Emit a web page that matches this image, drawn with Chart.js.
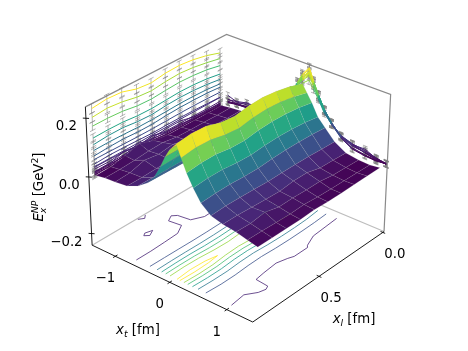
<!DOCTYPE html>
<html>
<head>
<meta charset="utf-8">
<style>
  html, body { margin: 0; padding: 0; background: #fff; }
</style>
<script src="https://cdn.jsdelivr.net/npm/chart.js@4"></script>
</head>
<body>
<canvas id="chart" width="468" height="351"></canvas>
<script>
// transverse and longitudinal positions [fm], xt lattice is finer near the axis
const xtValues = [-1.42, -1.25, -1.06, -0.84, -0.64, -0.47, -0.34, -0.23, -0.14, -0.06, 0.06, 0.14, 0.23, 0.34, 0.47, 0.64, 0.84, 1.06, 1.25, 1.42];
const xlValues = [0.04, 0.14, 0.24, 0.34, 0.44, 0.54, 0.64, 0.74, 0.84, 0.94];

// E_x^NP [GeV^2], one row per xl value
const row0 = [-0.002, 0.002, 0.006, 0.012, 0.026, 0.045, 0.075, 0.110, 0.140, 0.165, 0.185, 0.160, 0.132, 0.091, 0.063, 0.027, 0.004, -0.003, -0.005, -0.001];
const row1 = [-0.002, 0.002, 0.005, 0.011, 0.026, 0.047, 0.080, 0.118, 0.150, 0.175, 0.200, 0.172, 0.141, 0.098, 0.067, 0.029, 0.006, -0.001, -0.004, -0.001];
const row2 = [-0.002, 0.003, 0.006, 0.012, 0.026, 0.048, 0.082, 0.122, 0.155, 0.183, 0.210, 0.180, 0.146, 0.102, 0.068, 0.031, 0.008, 0.001, -0.003, -0.001];
const row3 = [-0.001, 0.003, 0.006, 0.012, 0.026, 0.048, 0.082, 0.123, 0.157, 0.187, 0.215, 0.183, 0.147, 0.103, 0.068, 0.032, 0.020, 0.008, -0.002, -0.002];
const row4 = [-0.001, 0.004, 0.008, 0.012, 0.025, 0.047, 0.080, 0.120, 0.154, 0.184, 0.213, 0.180, 0.144, 0.101, 0.066, 0.032, 0.020, 0.008, 0.000, -0.002];
const row5 = [0.006, 0.012, 0.021, 0.021, 0.025, 0.046, 0.078, 0.117, 0.150, 0.178, 0.205, 0.172, 0.137, 0.096, 0.062, 0.031, 0.014, 0.010, 0.004, 0.001];
const row6 = [0.022, 0.010, 0.014, 0.012, 0.024, 0.046, 0.078, 0.118, 0.152, 0.182, 0.210, 0.176, 0.138, 0.098, 0.062, 0.033, 0.016, 0.009, 0.002, -0.002];
const row7 = [0.008, 0.005, 0.021, 0.010, 0.024, 0.047, 0.080, 0.123, 0.160, 0.192, 0.225, 0.187, 0.146, 0.104, 0.065, 0.035, 0.019, 0.021, 0.003, -0.002];
const row8 = [-0.003, 0.002, 0.006, 0.008, 0.024, 0.048, 0.081, 0.124, 0.163, 0.197, 0.228, 0.189, 0.146, 0.104, 0.064, 0.036, 0.022, 0.014, 0.005, -0.002];
const row9 = [-0.005, 0.001, 0.003, 0.0075, 0.0244, 0.0488, 0.0799, 0.1225, 0.163, 0.1924, 0.222, 0.1824, 0.1404, 0.0999, 0.061, 0.033, 0.022, 0.0158, 0.006, -0.002];
const zRows = [row0, row1, row2, row3, row4, row5, row6, row7, row8, row9];

// error bar half height per xt column
const zErrors = [0.011, 0.011, 0.011, 0.012, 0.012, 0.013, 0.013, 0.014, 0.014, 0.015, 0.015, 0.014, 0.014, 0.013, 0.013, 0.012, 0.012, 0.011, 0.011, 0.011];
const contourLevels = [0.018, 0.05, 0.082, 0.114, 0.146, 0.178, 0.214];
// xt columns that get a curve on the left wall
const wallColumns = [0, 1, 2, 3, 4, 5, 6, 7, 8, 9, 10, 13, 14, 15, 16, 17, 18, 19];

const xtTicks = [-1, 0, 1];
const xlTicks = [0, 0.5];
const zTicks = [-0.2, 0, 0.2];

const xtLim = [-1.44, 1.44];
const xlLim = [-0.01, 0.98];
const zLim = [-0.242, 0.238];
const colorLim = [-0.004, 0.212];

const viridisStops = ['#440154', '#482878', '#3e4a89', '#31688e', '#26828e', '#1f9e89', '#35b779', '#6dcd59', '#b4de2c', '#fde725'];

function hexToRgb(hex) {
    return [1, 3, 5].map((i) => parseInt(hex.slice(i, i + 2), 16));
}

function viridis(z) {
    const t = Math.min(1, Math.max(0, (z - colorLim[0]) / (colorLim[1] - colorLim[0]))) * (viridisStops.length - 1);
    const i = Math.min(viridisStops.length - 2, Math.floor(t));
    const a = hexToRgb(viridisStops[i]);
    const b = hexToRgb(viridisStops[i + 1]);
    const c = a.map((v, k) => Math.round(v + (b[k] - v) * (t - i)));
    return `rgb(${c[0]},${c[1]},${c[2]})`;
}

// same view as a mplot3d axes: elev 30, azim 40
const elev = 30 * Math.PI / 180;
const azim = 40 * Math.PI / 180;
const dist = 10;
const boxX = 1.19;
const boxY = 1.19;
const boxZ = 0.893;
const view = { cx: 239, cy: 171, scale: 1780 };

function depthAndView(xt, xl, z) {
    const px = (xl - xlLim[0]) / (xlLim[1] - xlLim[0]) * boxX - boxX / 2;
    const py = (xt - xtLim[0]) / (xtLim[1] - xtLim[0]) * boxY - boxY / 2;
    const pz = (z - zLim[0]) / (zLim[1] - zLim[0]) * boxZ - boxZ / 2;
    const right = -Math.sin(azim) * px + Math.cos(azim) * py;
    const up = -Math.cos(azim) * Math.sin(elev) * px - Math.sin(azim) * Math.sin(elev) * py + Math.cos(elev) * pz;
    const toEye = Math.cos(azim) * Math.cos(elev) * px + Math.sin(azim) * Math.cos(elev) * py + Math.sin(elev) * pz;
    return { right, up, d: dist - toEye };
}

function project(xt, xl, z) {
    const v = depthAndView(xt, xl, z);
    return { x: view.cx + view.scale * v.right / v.d, y: view.cy - view.scale * v.up / v.d };
}

const GAP = { x: NaN, y: NaN };

function lineSet(points, color, width) {
    return {
        data: points,
        showLine: true,
        borderColor: color,
        borderWidth: width,
        pointRadius: 0,
        fill: false,
        spanGaps: false
    };
}

function wallSet(points, zs) {
    return {
        ...lineSet(points, '#888', 1),
        segment: {
            borderColor: (ctx) => viridis((zs[ctx.p0DataIndex] + zs[ctx.p1DataIndex]) / 2)
        }
    };
}

// wall curves with their error bars
function wallSets() {
    const sets = [];
    const bars = [];
    wallColumns.forEach((c) => {
        const zs = zRows.map((row) => row[c]);
        sets.push(wallSet(xlValues.map((xl, r) => project(xtLim[0], xl, zs[r])), zs));
        xlValues.forEach((xl, r) => {
            const e = zErrors[c];
            bars.push(project(xtLim[0], xl, zs[r] - e), project(xtLim[0], xl, zs[r] + e), GAP);
            bars.push(project(xtLim[0], xl - 0.018, zs[r] + e), project(xtLim[0], xl + 0.018, zs[r] + e), GAP);
            bars.push(project(xtLim[0], xl - 0.018, zs[r] - e), project(xtLim[0], xl + 0.018, zs[r] - e), GAP);
        });
    });
    xlValues.forEach((xl, r) => {
        const zs = zRows[r];
        sets.push(wallSet(xtValues.map((xt, c) => project(xt, xlLim[0], zs[c])), zs));
        xtValues.forEach((xt, c) => {
            const e = zErrors[c];
            bars.push(project(xt, xlLim[0], zs[c] - e), project(xt, xlLim[0], zs[c] + e), GAP);
            bars.push(project(xt - 0.04, xlLim[0], zs[c] + e), project(xt + 0.04, xlLim[0], zs[c] + e), GAP);
            bars.push(project(xt - 0.04, xlLim[0], zs[c] - e), project(xt + 0.04, xlLim[0], zs[c] - e), GAP);
        });
    });
    sets.push(lineSet(bars, 'rgba(128,128,128,0.85)', 0.7));
    return sets;
}

// contour lines of the table, marched cell by cell, on the floor
function contourSets() {
    return contourLevels.map((level) => {
        const pts = [];
        for (let r = 0; r < xlValues.length - 1; r++) {
            for (let c = 0; c < xtValues.length - 1; c++) {
                const corners = [[c, r], [c + 1, r], [c + 1, r + 1], [c, r + 1]];
                const cuts = [];
                corners.forEach((a, i) => {
                    const b = corners[(i + 1) % 4];
                    const za = zRows[a[1]][a[0]];
                    const zb = zRows[b[1]][b[0]];
                    if ((za < level) !== (zb < level)) {
                        const t = (level - za) / (zb - za);
                        const xt = xtValues[a[0]] + t * (xtValues[b[0]] - xtValues[a[0]]);
                        const xl = xlValues[a[1]] + t * (xlValues[b[1]] - xlValues[a[1]]);
                        cuts.push(project(xt, xl, zLim[0]));
                    }
                });
                for (let k = 0; k + 1 < cuts.length; k += 2) {
                    pts.push(cuts[k], cuts[k + 1], GAP);
                }
            }
        }
        return lineSet(pts, viridis(level), 0.8);
    });
}

function surfaceSets() {
    const cells = [];
    for (let r = 0; r < xlValues.length - 1; r++) {
        for (let c = 0; c < xtValues.length - 1; c++) {
            const zs = [zRows[r][c], zRows[r][c + 1], zRows[r + 1][c + 1], zRows[r + 1][c]];
            const mean = (zs[0] + zs[1] + zs[2] + zs[3]) / 4;
            const xts = [xtValues[c], xtValues[c + 1], xtValues[c + 1], xtValues[c]];
            const xls = [xlValues[r], xlValues[r], xlValues[r + 1], xlValues[r + 1]];
            const points = zs.map((z, i) => project(xts[i], xls[i], z));
            points.push(points[0]);
            const centre = depthAndView((xts[0] + xts[1]) / 2, (xls[0] + xls[2]) / 2, mean);
            cells.push({ d: centre.d, mean, points });
        }
    }
    cells.sort((a, b) => b.d - a.d);
    return cells.map((cell) => ({
        data: cell.points,
        showLine: true,
        borderColor: 'rgba(170,170,170,0.2)',
        borderWidth: 0.6,
        backgroundColor: viridis(cell.mean),
        pointRadius: 0,
        fill: 'shape'
    }));
}

function axisSets() {
    const [tA, tB] = xtLim;
    const [lA, lB] = xlLim;
    const [zA, zB] = zLim;
    const greyTop = [project(tA, lB, zB), project(tA, lA, zB), project(tB, lA, zB), project(tB, lA, zA)];
    const greyFloor = [project(tB, lA, zA), project(tA, lA, zA), project(tA, lB, zA)];
    const black = [project(tA, lB, zB), project(tA, lB, zA), project(tB, lB, zA), project(tB, lA, zA)];
    const ticks = [];
    xtTicks.forEach((t) => ticks.push(project(t, lB - 0.015, zA), project(t, lB + 0.015, zA), GAP));
    xlTicks.forEach((l) => ticks.push(project(tB - 0.04, l, zA), project(tB + 0.04, l, zA), GAP));
    zTicks.forEach((z) => ticks.push(project(tA - 0.035, lB + 0.008, z), project(tA + 0.035, lB - 0.008, z), GAP));
    return {
        back: [lineSet(greyTop, '#8a8a8a', 1.2), lineSet(greyFloor, '#bdbdbd', 1.1)],
        front: [lineSet(black, '#000', 0.9), lineSet(ticks, '#000', 0.9)]
    };
}

// tick labels and axis titles, runs are [text, style]: n normal, i italic, b sub, p super
const FONT = '"DejaVu Sans"';
const FONT_SIZE = 13.3;

function drawRuns(ctx, runs, x, y, rotate) {
    const fontFor = (style) => {
        const size = style === 'n' || style === 'i' ? FONT_SIZE : FONT_SIZE * 0.7;
        const slant = style === 'n' || style === 'u' ? '' : 'italic ';
        return `${slant}${size}px ${FONT}`;
    };
    const shifts = { n: 0, i: 0, b: 3, p: -5, u: -5 };
    let total = 0;
    let lastW = 0;
    const widths = runs.map(([text, style]) => {
        ctx.font = fontFor(style);
        return ctx.measureText(text).width;
    });
    widths.forEach((w, i) => {
        // sub and superscript printed on the same spot
        if (runs[i][2]) {
            total -= Math.min(lastW, w);
        }
        total += w;
        lastW = w;
    });
    ctx.save();
    ctx.translate(x, y);
    ctx.rotate(rotate);
    ctx.fillStyle = '#000';
    ctx.textBaseline = 'alphabetic';
    ctx.textAlign = 'left';
    let pen = -total / 2;
    lastW = 0;
    runs.forEach(([text, style, stacked], i) => {
        ctx.font = fontFor(style);
        if (stacked) {
            pen -= Math.min(lastW, widths[i]);
        }
        ctx.fillText(text, pen, shifts[style]);
        pen += widths[i];
        lastW = widths[i];
    });
    ctx.restore();
}

const labelPlugin = {
    id: 'labels3d',
    afterDatasetsDraw(chart) {
        const ctx = chart.ctx;
        xtTicks.forEach((t) => {
            const p = project(t, xlLim[1], zLim[0]);
            const text = t < 0 ? '\u2212' + Math.abs(t) : String(t);
            drawRuns(ctx, [[text, 'n']], p.x - 10, p.y + 26, 0);
        });
        xlTicks.forEach((l) => {
            const p = project(xtLim[1], l, zLim[0]);
            drawRuns(ctx, [[l.toFixed(1), 'n']], p.x + 12, p.y + 26, 0);
        });
        zTicks.forEach((z) => {
            const p = project(xtLim[0], xlLim[1], z);
            const text = z < 0 ? '\u2212' + Math.abs(z).toFixed(1) : z.toFixed(1);
            ctx.font = `${FONT_SIZE}px ${FONT}`;
            const w = ctx.measureText(text).width;
            drawRuns(ctx, [[text, 'n']], p.x - 9 - w / 2, p.y + 12, 0);
        });
        drawRuns(ctx, [['x', 'i'], ['t', 'b'], [' [fm]', 'n']], 138, 334, 0);
        drawRuns(ctx, [['x', 'i'], ['l', 'b'], [' [fm]', 'n']], 354, 323, 0);
        drawRuns(ctx, [['E', 'i'], ['x', 'b'], ['NP', 'p', true], [' [GeV', 'n'], ['2', 'u'], [']', 'n']], 43, 187, -Math.PI / 2);
    }
};

const axes = axisSets();
// first dataset is painted last, so list from front to back
const paintOrder = [
    ...axes.front,
    ...surfaceSets().reverse(),
    ...wallSets(),
    ...contourSets(),
    ...axes.back
];

new Chart(document.getElementById('chart'), {
    type: 'scatter',
    data: { datasets: paintOrder },
    options: {
        responsive: false,
        animation: false,
        layout: { padding: 0 },
        plugins: {
            legend: { display: false },
            tooltip: { enabled: false }
        },
        scales: {
            x: { type: 'linear', min: 0, max: 468, display: false },
            y: { type: 'linear', min: 0, max: 351, reverse: true, display: false }
        }
    },
    plugins: [labelPlugin]
});
</script>
</body>
</html>
